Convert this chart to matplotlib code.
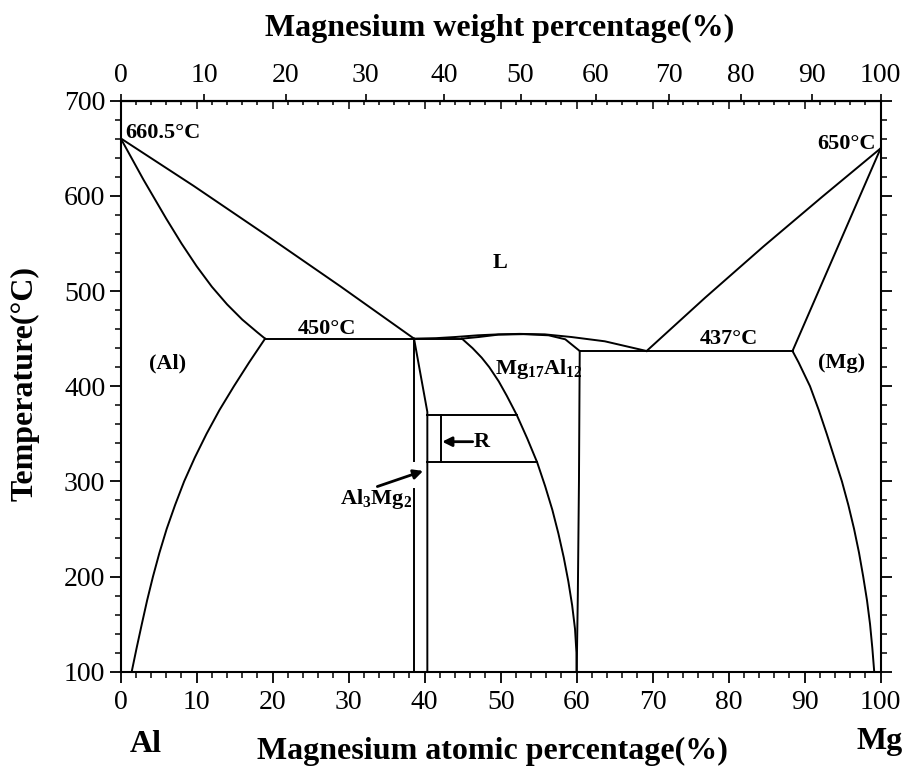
import numpy as np
import matplotlib
matplotlib.use('Agg')
import matplotlib.pyplot as plt
from matplotlib.ticker import MultipleLocator, NullFormatter

plt.rcParams['font.family'] = ['Liberation Serif', 'DejaVu Serif']
plt.rcParams['mathtext.default'] = 'regular'

# molar masses for the at% <-> wt% conversion of the top axis
M_MG, M_AL = 24.305, 26.982


def at_to_wt(a):
    a = np.asarray(a, dtype=float)
    return 100 * a * M_MG / (a * M_MG + (100 - a) * M_AL)


def wt_to_at(w):
    w = np.asarray(w, dtype=float)
    return 100 * (w / M_MG) / (w / M_MG + (100 - w) / M_AL)


# phase boundaries, x = at% Mg, T in degC
al_liq_x = [0, 9.6, 19.2, 28.9, 38.6]
al_liq_t = [660.5, 610.5, 558.5, 505, 450]
al_sol_x = [0, 3, 6, 8, 10, 12, 14, 16, 18, 19.0]
al_sol_t = [660.5, 617, 576, 550, 526, 504.5, 486, 470, 456.5, 450]
al_solv_t = [450, 425, 400, 375, 350, 325, 300, 275, 250, 225, 200, 175, 150, 125, 100]
al_solv_x = [19.0, 16.9, 14.9, 13.0, 11.3, 9.75, 8.35, 7.15, 6.05, 5.1, 4.25, 3.48, 2.78, 2.1, 1.45]

eut1_x = [19.0, 44.9]
eut1_t = [450, 450]
eut2_x = [60.4, 88.4]
eut2_t = [437, 437]

mid_liq_x = [38.6, 41.5, 44, 47, 49.7, 52.5, 55.8, 59.3, 63.7, 69.2]
mid_liq_t = [450, 450.5, 451.7, 453.5, 454.5, 455, 454.5, 451.7, 447.2, 437]
g_sol_x = [44.9, 47.1, 49.7, 53, 56.3, 58.5, 60.4]
g_sol_t = [450, 451.7, 454.2, 454.7, 453.5, 449.3, 437]
g_left_t = [450, 440, 430, 420, 405, 390, 370, 345, 320, 295, 270, 245, 220, 195, 170, 145, 120, 100]
g_left_x = [44.9, 46.3, 47.5, 48.5, 49.75, 50.8, 52.1, 53.5, 54.8, 55.85, 56.8, 57.6, 58.3, 58.9,
            59.4, 59.78, 59.97, 60.0]
g_right_x = [60.4, 60.3, 60.15, 60.0]
g_right_t = [437, 300, 180, 100]

b_left_x = 38.6
b_left_gap = (292, 321)
b_right_x = [38.6, 40.35, 40.35]
b_right_t = [450, 373, 100]

r_top, r_bottom, r_inner_x = 370, 320, 42.1

mg_liq_x = [69.2, 76.9, 84.6, 92.3, 100]
mg_liq_t = [437, 493, 547, 599, 650]
mg_sol_x = [100, 88.4]
mg_sol_t = [650, 437]
mg_solv_t = [437, 425, 400, 375, 350, 325, 300, 275, 250, 225, 200, 175, 150, 125, 100]
mg_solv_x = [88.4, 89.2, 90.7, 91.85, 92.9, 93.9, 94.9, 95.75, 96.5, 97.15, 97.7, 98.2, 98.6,
             98.9, 99.15]

fig = plt.figure(figsize=(9.04, 7.76), dpi=100)
ax = fig.add_axes([0.1335, 0.1344, 0.8407, 0.7358])
ax.set_xlim(0, 100)
ax.set_ylim(100, 700)

line_kw = dict(color='black', lw=1.4, solid_joinstyle='round')
for xs, ts in [(al_liq_x, al_liq_t), (al_sol_x, al_sol_t), (al_solv_x, al_solv_t),
               (eut1_x, eut1_t), (eut2_x, eut2_t), (mid_liq_x, mid_liq_t),
               (g_sol_x, g_sol_t), (g_left_x, g_left_t), (g_right_x, g_right_t),
               (b_right_x, b_right_t), (mg_liq_x, mg_liq_t), (mg_sol_x, mg_sol_t),
               (mg_solv_x, mg_solv_t)]:
    ax.plot(xs, ts, **line_kw)

# Al3Mg2 left boundary, broken where the label arrow crosses
ax.plot([b_left_x, b_left_x], [450, b_left_gap[1]], **line_kw)
ax.plot([b_left_x, b_left_x], [b_left_gap[0], 100], **line_kw)

# R region box, closed on the right by the Mg17Al12 boundary
x_top = np.interp(r_top, g_left_t[::-1], g_left_x[::-1])
x_bot = np.interp(r_bottom, g_left_t[::-1], g_left_x[::-1])
ax.plot([b_right_x[-1], x_top], [r_top, r_top], **line_kw)
ax.plot([b_right_x[-1], x_bot], [r_bottom, r_bottom], **line_kw)
ax.plot([r_inner_x, r_inner_x], [r_bottom, r_top], **line_kw)

# ticks
ax.xaxis.set_major_locator(MultipleLocator(10))
ax.xaxis.set_minor_locator(MultipleLocator(2))
ax.yaxis.set_major_locator(MultipleLocator(100))
ax.yaxis.set_minor_locator(MultipleLocator(20))
ax.tick_params(axis='x', which='both', direction='out', top=False, labelsize=20, pad=5)
ax.tick_params(axis='y', which='both', direction='out', right=True, labelsize=20, pad=3)
ax.tick_params(which='major', length=8, width=1.3)
ax.tick_params(which='minor', length=4, width=1.1)
for sp in ax.spines.values():
    sp.set_linewidth(1.5)

# at% ticks mirrored inward on the top spine
top_in = ax.secondary_xaxis('top')
top_in.xaxis.set_major_locator(MultipleLocator(10))
top_in.xaxis.set_minor_locator(MultipleLocator(2))
top_in.xaxis.set_major_formatter(NullFormatter())
top_in.tick_params(which='both', direction='in', width=1.1)
top_in.tick_params(which='major', length=6)
top_in.tick_params(which='minor', length=3)
top_in.spines['top'].set_linewidth(1.5)

# wt% scale on top
top_wt = ax.secondary_xaxis('top', functions=(at_to_wt, wt_to_at))
top_wt.set_xticks(np.arange(0, 101, 10))
top_wt.xaxis.set_minor_locator(plt.NullLocator())
top_wt.tick_params(direction='out', length=5, width=1.2, labelsize=20, pad=4)

fig.text(0.553, 0.963, 'Magnesium weight percentage(%)', fontsize=23, fontweight='bold',
         ha='center', va='center')
fig.text(0.545, 0.031, 'Magnesium atomic percentage(%)', fontsize=23, fontweight='bold',
         ha='center', va='center')
fig.text(0.028, 0.506, 'Temperature(\u00b0C)', fontsize=23, fontweight='bold',
         ha='center', va='center', rotation=90)
fig.text(0.161, 0.040, 'Al', fontsize=23, fontweight='bold', ha='center', va='center')
fig.text(0.973, 0.044, 'Mg', fontsize=23, fontweight='bold', ha='center', va='center')

# region / temperature annotations
tk = dict(fontsize=16, fontweight='bold', va='center')
ax.text(0.6, 666.5, '660.5\u00b0C', ha='left', **tk)
ax.text(99.3, 654, '650\u00b0C', ha='right', **tk)
ax.text(49.9, 529.5, 'L', ha='center', **tk)
ax.text(27.2, 459.6, '450\u00b0C', ha='center', **tk)
ax.text(80.0, 450, '437\u00b0C', ha='center', **tk)
ax.text(6.2, 424.4, '(Al)', ha='center', **tk)
ax.text(94.9, 424.4, '(Mg)', ha='center', **tk)
ax.text(55.0, 418, 'Mg$_{17}$Al$_{12}$', ha='center', **tk)

arrow_kw = dict(arrowstyle='-|>', color='black', lw=2, mutation_scale=14,
                shrinkA=1, shrinkB=0, patchA=None)
ax.annotate('Al$_3$Mg$_2$', xy=(39.8, 311), xytext=(33.6, 281.5), ha='center',
            arrowprops=dict(relpos=(0.5, 1.0), **arrow_kw), **tk)
ax.annotate('R', xy=(42.3, 341.7), xytext=(46.5, 341.7), ha='left',
            arrowprops=dict(relpos=(0.0, 0.5), **arrow_kw), **tk)

fig.savefig('out.png', dpi=100)
